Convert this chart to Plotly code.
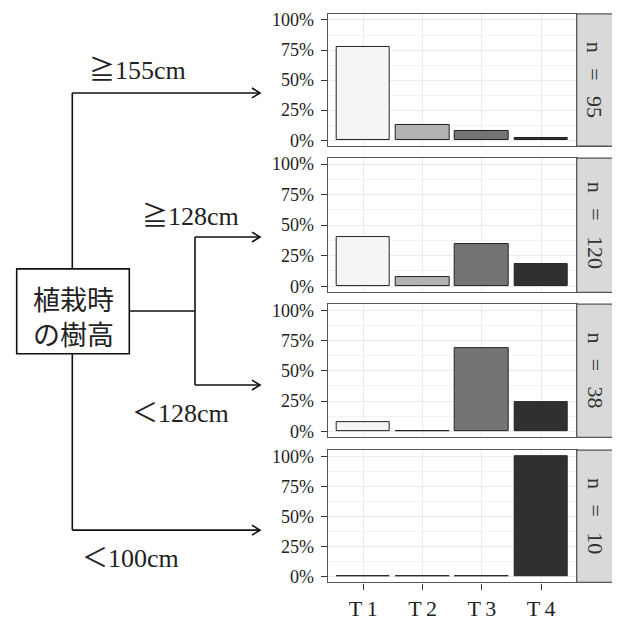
import plotly.graph_objects as go

categories = ["T1", "T2", "T3", "T4"]
panel_labels = ["n = 95", "n = 120", "n = 38", "n = 10"]
pct_n95 = [77.9, 12.6, 7.4, 2.1]
pct_n120 = [40.0, 7.5, 34.2, 18.3]
pct_n38 = [7.9, 0.0, 68.4, 23.7]
pct_n10 = [0.0, 0.0, 0.0, 100.0]
panel_values = [pct_n95, pct_n120, pct_n38, pct_n10]
bar_colors = ["#f5f5f5", "#b2b3b5", "#737475", "#303030"]
ytick_vals = [0, 25, 50, 75, 100]
ytick_text = ["0%", "25%", "50%", "75%", "100%"]
branch_labels = ["≧155cm", "≧128cm", "＜128cm", "＜100cm"]
box_label = "植栽時<br>の樹高"

# page body has an 8px margin; figure is shifted accordingly
OFF = 8
W, H = 612, 613
SERIF = "Liberation Serif, DejaVu Serif, Noto Sans CJK JP, serif"
CJK = "Noto Sans CJK JP, sans-serif"


def px(x):
    return (x - OFF) / W


def py(y):
    return 1 - (y - OFF) / H


# panel pixel geometry in window coordinates (top, bottom)
panel_px = [(10, 144), (156, 292), (304, 439), (452, 586)]
x_left, x_right, strip_right = 327.7, 576.7, 614.0

fig = go.Figure()
shapes = []
annotations = []

xtick_text = [c[0] + "\u2009" + c[1:] for c in categories]

for i, vals in enumerate(panel_values):
    k = "" if i == 0 else str(i + 1)
    fig.add_trace(go.Bar(
        x=categories, y=vals, width=0.9,
        marker=dict(color=bar_colors, line=dict(color="#222222", width=1)),
        xaxis="x" + k, yaxis="y" + k, showlegend=False, hoverinfo="x+y",
    ))
    top, bot = panel_px[i]
    last = i == len(panel_values) - 1
    fig.update_layout(**{
        "xaxis" + k: dict(
            domain=[px(x_left), px(x_right)], anchor="y" + k,
            type="category", categoryorder="array", categoryarray=categories,
            tickvals=categories, ticktext=xtick_text,
            range=[-0.6, 3.6], showgrid=True, gridcolor="#ebebeb", gridwidth=1,
            showline=True, mirror=True, linecolor="#555555", linewidth=1.3,
            ticks="outside" if last else "", ticklen=6, tickcolor="#333333",
            showticklabels=last, tickfont=dict(family=SERIF, size=22, color="#222222"),
            zeroline=False, fixedrange=True,
        ),
        "yaxis" + k: dict(
            domain=[py(bot), py(top)], anchor="x" + k,
            range=[-5, 105], tickvals=ytick_vals, ticktext=ytick_text,
            showgrid=True, gridcolor="#ebebeb", gridwidth=1.2,
            minor=dict(dtick=12.5, tick0=12.5, showgrid=True, gridcolor="#f2f2f2", gridwidth=0.6),
            showline=True, mirror=True, linecolor="#555555", linewidth=1.3,
            ticks="outside", ticklen=6, tickcolor="#333333",
            tickfont=dict(family=SERIF, size=18, color="#222222"),
            ticklabelstandoff=3,
            zeroline=False, fixedrange=True,
        ),
    })
    # facet strip
    shapes.append(dict(type="rect", xref="paper", yref="paper",
                       x0=px(x_right), x1=px(strip_right), y0=py(bot), y1=py(top),
                       fillcolor="#d9d9d9", line=dict(color="#555555", width=1.3), layer="above"))
    annotations.append(dict(xref="paper", yref="paper",
                            x=px((x_right + strip_right) / 2), y=py((top + bot) / 2),
                            xanchor="center", yanchor="middle",
                            text=panel_labels[i].replace(" ", "\u2002\u2009"), textangle=90, showarrow=False,
                            font=dict(family=SERIF, size=22, color="#333333")))

# left-hand diagram
LC = "#111111"
LW = 1.6


def seg(x0, y0, x1, y1):
    shapes.append(dict(type="line", xref="paper", yref="paper",
                       x0=px(x0), y0=py(y0), x1=px(x1), y1=py(y1),
                       line=dict(color=LC, width=LW)))


def arrow_head(x, y):
    shapes.append(dict(type="path", xref="paper", yref="paper",
                       path=f"M {px(x-8)},{py(y-5)} L {px(x)},{py(y)} L {px(x-8)},{py(y+5)}",
                       line=dict(color=LC, width=LW)))


box = (16.7, 268.3, 129.3, 354.3)
shapes.append(dict(type="rect", xref="paper", yref="paper",
                   x0=px(box[0]), x1=px(box[2]), y0=py(box[3]), y1=py(box[1]),
                   line=dict(color=LC, width=LW), fillcolor="white"))
seg(72.3, 90, 72.3, box[1])
seg(72.3, 90, 260, 90)
arrow_head(260, 90)
seg(box[2], 311, 195, 311)
seg(195, 236, 195, 386)
seg(195, 236, 260, 236)
arrow_head(260, 236)
seg(195, 386, 260, 386)
arrow_head(260, 386)
seg(72.3, box[3], 72.3, 533)
seg(72.3, 533, 260, 533)
arrow_head(260, 533)

annotations.append(dict(xref="paper", yref="paper", x=px(73), y=py(316),
                        xanchor="center", yanchor="middle",
                        text=box_label, showarrow=False,
                        font=dict(family=CJK, size=27, color="#222222")))
label_pos = [(137, 67), (190, 215), (180, 415), (130, 562)]
for lab, (lx, ly) in zip(branch_labels, label_pos):
    annotations.append(dict(xref="paper", yref="paper", x=px(lx), y=py(ly),
                            xanchor="center", yanchor="middle",
                            text=lab, showarrow=False,
                            font=dict(family=SERIF, size=26, color="#222222")))

fig.update_layout(
    width=W, height=H, margin=dict(l=0, r=0, t=0, b=0),
    paper_bgcolor="white", plot_bgcolor="white",
    shapes=shapes, annotations=annotations, bargap=0,
)
fig.write_html("out.html")
